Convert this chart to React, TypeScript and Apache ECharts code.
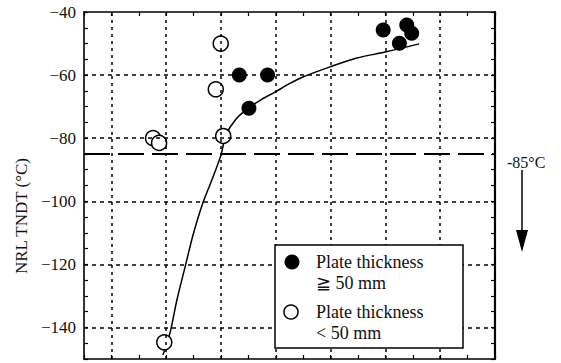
import React, { useEffect, useRef } from "react";
import * as echarts from "echarts";

// Data
const filledName = "Plate thickness\n≧ 50 mm";
const openName = "Plate thickness\n< 50 mm";
const filledPoints: number[][] = [
  [5.67, -60], [6.7, -60], [6.02, -70.5],
  [10.92, -45.7], [11.51, -49.9], [11.78, -44.1], [11.96, -46.7],
];
const openPoints: number[][] = [
  [2.52, -80], [2.74, -81.5], [4.99, -50], [4.81, -64.5], [5.08, -79.3], [2.93, -144.7],
];
const fitCurve: number[][] = [
  [2.88, -148.7], [3.14, -141.7], [3.39, -131.3], [3.69, -120.8], [3.98, -110.7],
  [4.34, -100.5], [4.67, -93.2], [5.0, -85.3], [5.18, -79.0], [5.55, -73.9],
  [6.02, -70.4], [6.5, -67.6], [6.97, -65.4], [7.48, -62.8], [7.99, -60.6],
  [8.98, -57.4], [9.96, -54.6], [10.99, -52.7], [12.23, -50.1],
];
const gridX = [1, 3, 5, 7, 9, 11, 13];
const gridY = [-60, -80, -100, -120, -140];
const limitY = -85;
const limitLabel = "-85°C";
const yAxisName = "NRL TNDT (°C)";

const FONT = '"Liberation Serif", "DejaVu Serif", serif';

export default function App() {
  const ref = useRef<HTMLDivElement>(null);
  useEffect(() => {
    const chart = echarts.init(ref.current!, null, { renderer: "svg" });
    const axisCommon = {
      type: "value" as const,
      axisLine: { show: true, onZero: false, lineStyle: { color: "#000", width: 1.6 } },
      axisTick: { show: true, inside: true, length: 4, lineStyle: { color: "#000", width: 1.2 } },
      splitLine: { show: false },
    };
    chart.setOption({
      animation: false,
      backgroundColor: "#fff",
      grid: { left: 84, right: 66, top: 12, bottom: 4 },
      xAxis: [
        { ...axisCommon, min: 0, max: 15, interval: 1, position: "bottom", axisLabel: { show: false } },
        { ...axisCommon, min: 0, max: 15, interval: 1, position: "top", axisLabel: { show: false } },
      ],
      yAxis: [
        {
          ...axisCommon, min: -150, max: -40, interval: 5, position: "left",
          axisLabel: {
            show: true, margin: 8, color: "#111", fontFamily: FONT, fontSize: 17,
            formatter: (v: number) => (v % 20 === 0 ? "\u2212" + Math.abs(v) : ""),
          },
        },
        { ...axisCommon, min: -150, max: -40, interval: 5, position: "right", axisLabel: { show: false },
          axisLine: { show: true, onZero: false, lineStyle: { color: "#000", width: 2.2 } } },
      ],
      graphic: [
        {
          type: "text", x: 21, y: 216, rotation: Math.PI / 2,
          style: { text: yAxisName, font: `17px ${FONT}`, fill: "#111", textAlign: "center", textVerticalAlign: "middle" },
        },
        {
          type: "text", x: 507, y: 162,
          style: { text: limitLabel, font: `16px ${FONT}`, fill: "#111", textAlign: "left", textVerticalAlign: "middle" },
        },
        { type: "line", shape: { x1: 522, y1: 170, x2: 522, y2: 232 }, style: { stroke: "#000", lineWidth: 1.5 } },
        { type: "polygon", shape: { points: [[516, 230], [528, 230], [522, 252]] }, style: { fill: "#000" } },
        {
          type: "rect", shape: { x: 275, y: 245, width: 188, height: 103 },
          style: { fill: "#fff", stroke: "#000", lineWidth: 1.5 }, z: 100,
        },
        { type: "circle", shape: { cx: 292, cy: 262, r: 7.5 }, style: { fill: "#000" }, z: 101 },
        { type: "circle", shape: { cx: 291, cy: 312, r: 7 }, style: { fill: "#fff", stroke: "#000", lineWidth: 1.5 }, z: 101 },
        {
          type: "text", x: 316, y: 272, z: 101,
          style: { text: filledName, font: `18px ${FONT}`, fill: "#111", lineHeight: 21, textAlign: "left", textVerticalAlign: "middle" },
        },
        {
          type: "text", x: 316, y: 322, z: 101,
          style: { text: openName, font: `18px ${FONT}`, fill: "#111", lineHeight: 21, textAlign: "left", textVerticalAlign: "middle" },
        },
      ],
      series: [
        {
          type: "line", name: "fit", data: fitCurve, smooth: 0.3, showSymbol: false, symbol: "none",
          lineStyle: { color: "#000", width: 1.5 }, silent: true, z: 3,
          markLine: {
            silent: true, symbol: "none", label: { show: false },
            lineStyle: { color: "#000", width: 1.5, type: [3, 4] },
            data: [
              ...gridX.map((v) => ({ xAxis: v })),
              ...gridY.map((v) => ({ yAxis: v, lineStyle: { type: [4, 4], width: 1.5, color: "#000" } })),
              { yAxis: limitY, lineStyle: { type: [26, 8], width: 2, color: "#000" } },
            ],
          },
        },
        {
          type: "scatter", name: openName, data: openPoints, symbol: "circle", symbolSize: 15,
          itemStyle: { color: "#fff", borderColor: "#000", borderWidth: 1.5, opacity: 1 }, z: 4,
        },
        {
          type: "scatter", name: filledName, data: filledPoints, symbol: "circle", symbolSize: 15,
          itemStyle: { color: "#000", opacity: 1 }, z: 5,
        },
      ],
    });
    return () => chart.dispose();
  }, []);
  return <div ref={ref} style={{ position: "fixed", left: 0, top: 0, width: 561, height: 363 }} />;
}
